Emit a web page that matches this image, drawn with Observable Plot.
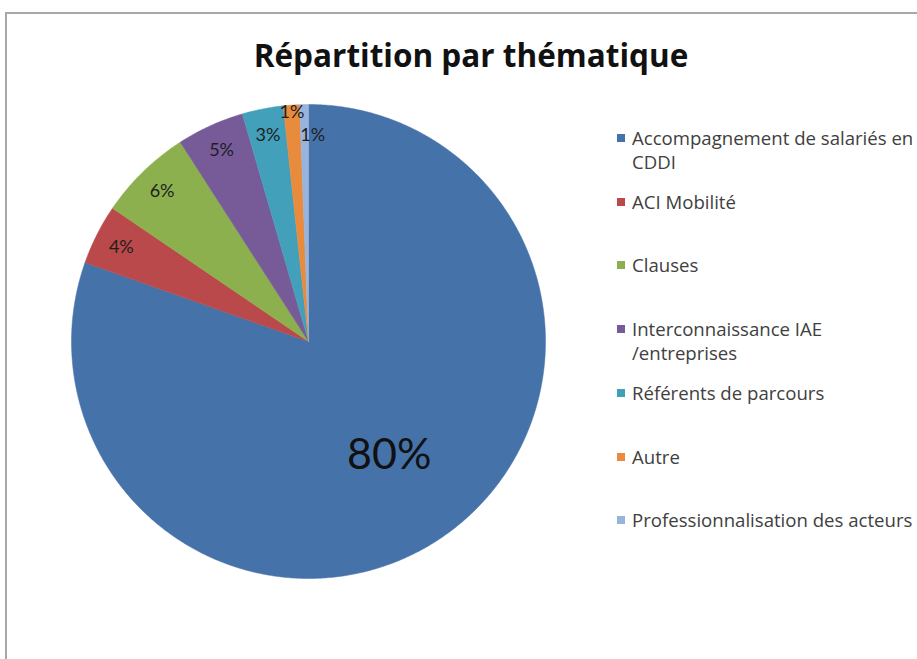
<!DOCTYPE html>
<html>
<head>
<meta charset="utf-8">
<script src="https://cdn.jsdelivr.net/npm/d3@7"></script>
<script src="https://cdn.jsdelivr.net/npm/@observablehq/plot@0.6"></script>
<style>
  html, body { margin: 0; padding: 0; background: #fff; overflow: hidden; width: 917px; height: 659px; }
  #wrap { position: relative; width: 917px; height: 659px; overflow: hidden; font-variant-ligatures: none; }
  #frame { position: absolute; left: 5px; top: 12px; width: 1000px; height: 1000px; border: 2px solid #a8a8a8; box-sizing: border-box; pointer-events: none; }
  #title { position: absolute; left: 0; top: 35px; width: 942px; text-align: center; font-family: "Open Sans", sans-serif; font-weight: 700; font-size: 31.5px; line-height: 40px; color: #111; }
  #legend { position: absolute; left: 0; top: 0; font-family: "Open Sans", sans-serif; font-size: 18.6px; color: #404040; }
  .item { position: absolute; white-space: nowrap; line-height: 24px; }
  .sw { position: absolute; width: 8px; height: 8px; }
  #chart { position: absolute; left: 0; top: 0; }
</style>
</head>
<body>
<div id="wrap">
  <div id="chart"></div>
  <div id="frame"></div>
  <div id="title">Répartition par thématique</div>
  <div id="legend"></div>
</div>
<script>
const categories = [
  "Accompagnement de salariés en CDDI",
  "ACI Mobilité",
  "Clauses",
  "Interconnaissance IAE /entreprises",
  "Référents de parcours",
  "Autre",
  "Professionnalisation des acteurs"
];
const legendLines = [
  ["Accompagnement de salariés en", "CDDI"],
  ["ACI Mobilité"],
  ["Clauses"],
  ["Interconnaissance IAE", "/entreprises"],
  ["Référents de parcours"],
  ["Autre"],
  ["Professionnalisation des acteurs"]
];
const values = [80.4, 4.1, 6.4, 4.6, 2.8, 1.1, 0.6];
const labels = ["80%", "4%", "6%", "5%", "3%", "1%", "1%"];
const colors = ["#4672AA", "#B9494A", "#8DB04E", "#775B99", "#42A0BA", "#E98B3D", "#98B3DC"];

const arcs = d3.pie().sort(null).value(d => d)(values);

// polygon points for each slice (unit circle, y up)
const slicePts = [];
arcs.forEach((a, i) => {
  const cat = categories[i];
  slicePts.push({cat, x: 0, y: 0});
  const n = Math.max(2, Math.ceil((a.endAngle - a.startAngle) / (Math.PI / 360)));
  for (let k = 0; k <= n; k++) {
    const t = a.startAngle + (a.endAngle - a.startAngle) * k / n;
    slicePts.push({cat, x: Math.sin(t), y: Math.cos(t)});
  }
  slicePts.push({cat, x: 0, y: 0});
});

// label positions derived from slice mid angles
const labelData = arcs.map((a, i) => {
  let t = (a.startAngle + a.endAngle) / 2;
  let r = 0.885;
  let big = false;
  if (values[i] > 50) { r = 0.59; big = true; }
  else if (i === values.length - 1) { t = a.endAngle + 0.02; r = 0.87; }
  else if (values[i] < 2) { r = 0.97; }
  return {x: r * Math.sin(t), y: r * Math.cos(t), text: labels[i], big};
});

const plot = Plot.plot({
  width: 917,
  height: 659,
  marginLeft: 71,
  marginRight: 372,
  marginTop: 104,
  marginBottom: 81,
  style: {background: "transparent", overflow: "visible"},
  x: {domain: [-1, 1], axis: null},
  y: {domain: [-1, 1], axis: null},
  color: {domain: categories, range: colors},
  marks: [
    Plot.line(slicePts, {x: "x", y: "y", z: "cat", fill: "cat", stroke: "cat", strokeWidth: 0.5, curve: "linear"}),
    Plot.text(labelData.filter(d => !d.big), {x: "x", y: "y", text: "text", fontSize: 18, fontFamily: "Lato, sans-serif", fill: "#1e1e1e"}),
    Plot.text(labelData.filter(d => d.big), {x: "x", y: "y", text: "text", fontSize: 43, fontFamily: "Lato, sans-serif", fill: "#111"})
  ]
});
document.getElementById("chart").appendChild(plot);

const legend = document.getElementById("legend");
legendLines.forEach((lines, i) => {
  const top = 126 + i * 63.7;
  const sw = document.createElement("div");
  sw.className = "sw";
  sw.style.left = "617px";
  sw.style.top = (top + 8) + "px";
  sw.style.background = colors[i];
  legend.appendChild(sw);
  const it = document.createElement("div");
  it.className = "item";
  it.style.left = "632px";
  it.style.top = top + "px";
  it.innerHTML = lines.join("<br>");
  legend.appendChild(it);
});
</script>
</body>
</html>
